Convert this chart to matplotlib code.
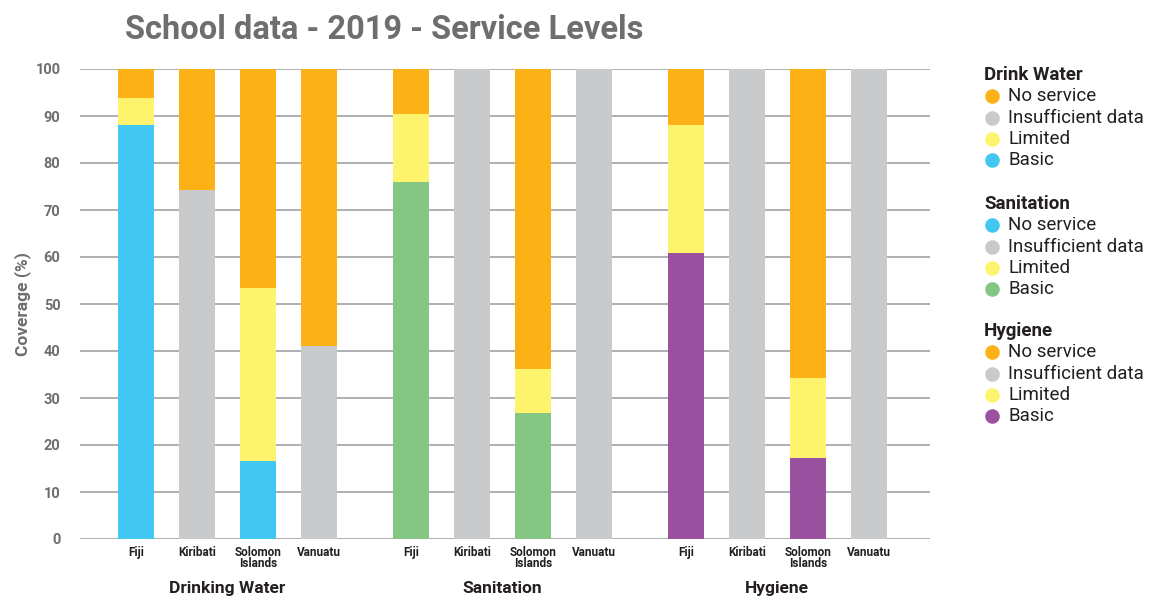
import matplotlib
matplotlib.use("Agg")
import matplotlib.pyplot as plt
from matplotlib import font_manager as fm
import numpy as np

# ---- data ----
countries = ["Fiji", "Kiribati", "Solomon\nIslands", "Vanuatu"]
groups = ["Drinking Water", "Sanitation", "Hygiene"]
levels = ["Basic", "Limited", "Insufficient data", "No service"]

water_basic = [88.1, 0, 16.6, 0]
water_limited = [5.7, 0, 36.9, 0]
water_insufficient = [0, 74.3, 0, 41.1]
water_noservice = [6.2, 25.7, 46.5, 58.9]

san_basic = [76.0, 0, 26.8, 0]
san_limited = [14.4, 0, 9.4, 0]
san_insufficient = [0, 100, 0, 100]
san_noservice = [9.6, 0, 63.8, 0]

hyg_basic = [60.9, 0, 17.3, 0]
hyg_limited = [27.2, 0, 17.0, 0]
hyg_insufficient = [0, 100, 0, 100]
hyg_noservice = [11.9, 0, 65.7, 0]

yticks = list(range(0, 101, 10))

legend_sections = ["Drink Water", "Sanitation", "Hygiene"]
legend_items = ["No service", "Insufficient data", "Limited", "Basic"]

# ---- styles ----
ORANGE = "#FCB216"
GRAY = "#C9CACC"
YELLOW = "#FEF36C"
BLUE = "#42C7F2"
GREEN = "#84C785"
PURPLE = "#9A519F"
TXT = "#6D6E70"
DARK = "#231F20"

legend_colors = [
    [ORANGE, GRAY, YELLOW, BLUE],
    [BLUE, GRAY, YELLOW, GREEN],
    [ORANGE, GRAY, YELLOW, PURPLE],
]

def has_font(name):
    try:
        fm.findfont(fm.FontProperties(family=name), fallback_to_default=False)
        return True
    except Exception:
        return False

MAIN = "Roboto" if has_font("Roboto") else "DejaVu Sans"
NARROW = "Liberation Sans Narrow" if has_font("Liberation Sans Narrow") else MAIN

W, H = 1150, 599
fig = plt.figure(figsize=(W / 100, H / 100), dpi=100)

# axes placement in pixels
ax_l, ax_r, ax_t, ax_b = 80, 930, 69, 539
ax = fig.add_axes([ax_l / W, 1 - ax_b / H, (ax_r - ax_l) / W, (ax_b - ax_t) / H])

group_data = [
    (water_basic, water_limited, water_insufficient, water_noservice, BLUE),
    (san_basic, san_limited, san_insufficient, san_noservice, GREEN),
    (hyg_basic, hyg_limited, hyg_insufficient, hyg_noservice, PURPLE),
]

bw = 0.59
xticks = []
xlabels = []
group_centers = []
for gi, (b, l, ins, ns, bcol) in enumerate(group_data):
    x = np.arange(len(countries)) + gi * 4.5
    b = np.array(b); l = np.array(l); ins = np.array(ins); ns = np.array(ns)
    ax.bar(x, b, bw, color=bcol, zorder=3)
    ax.bar(x, l, bw, bottom=b, color=YELLOW, zorder=3)
    ax.bar(x, ins, bw, bottom=b + l, color=GRAY, zorder=3)
    ax.bar(x, ns, bw, bottom=b + l + ins, color=ORANGE, zorder=3)
    xticks.extend(x)
    xlabels.extend(countries)
    group_centers.append(x.mean())

ax.set_xlim(-0.917, 13.0)
ax.set_ylim(0, 100)
ax.set_yticks(yticks)
ax.yaxis.grid(True, color="#A7A9AC", linewidth=1.3, zorder=0)
ax.set_axisbelow(True)
for s in ax.spines.values():
    s.set_visible(False)
ax.tick_params(axis="both", length=0)
ax.set_yticklabels([str(v) for v in yticks], fontsize=10.5, fontweight="bold",
                   color=TXT, family=MAIN)
ax.tick_params(axis="y", pad=14)
ax.set_xticks(xticks)
ax.set_xticklabels(xlabels, fontsize=8.5, family=NARROW, fontweight="bold",
                   color=DARK, linespacing=0.8, va="top")
ax.tick_params(axis="x", pad=5)
ax.set_ylabel("Coverage (%)", fontsize=12.5, fontweight="bold", color=TXT,
              family=MAIN, labelpad=3)

for gc, gname in zip(group_centers, groups):
    ax.annotate(gname, xy=(gc, 0), xycoords=("data", "axes fraction"),
                xytext=(0, -35.5), textcoords="offset points", ha="center", va="center",
                fontsize=12.5, fontweight="bold", color=DARK, family=MAIN)

# title
fig.text(125 / W, 1 - 30 / H, "School data - 2019 - Service Levels", fontsize=23.5,
         fontweight="bold", color=TXT, family=MAIN, ha="left", va="center")

# legend overlay
ov = fig.add_axes([0, 0, 1, 1])
ov.set_xlim(0, W)
ov.set_ylim(H, 0)
ov.axis("off")
sec_top = [75, 204, 331]
for si, sec in enumerate(legend_sections):
    y0 = sec_top[si]
    ov.text(984, y0, sec, fontsize=13.5, fontweight="bold", color=DARK,
            family=MAIN, ha="left", va="center")
    for ii, item in enumerate(legend_items):
        yy = y0 + 21.3 * (ii + 1)
        ov.plot([992], [yy], "o", markersize=10.5, color=legend_colors[si][ii],
                markeredgewidth=0)
        ov.text(1008, yy, item, fontsize=13.5, color=DARK, family=MAIN,
                ha="left", va="center")

fig.savefig("out.png", dpi=100)
